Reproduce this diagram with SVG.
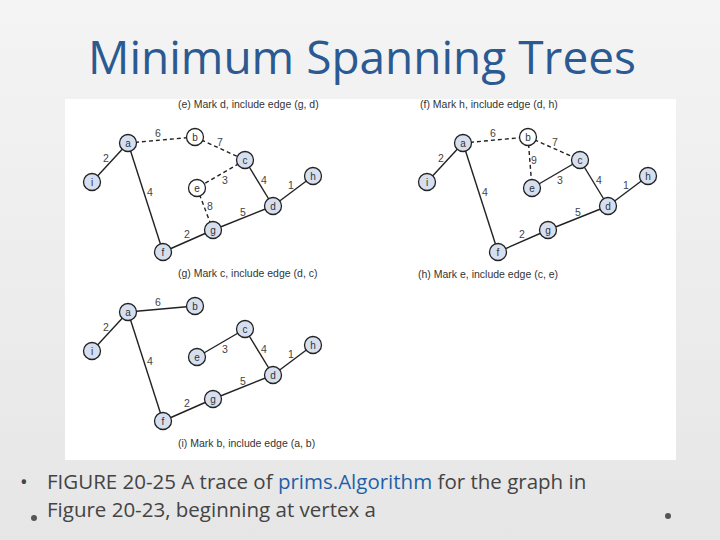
<svg xmlns="http://www.w3.org/2000/svg" width="720" height="540" viewBox="0 0 720 540">
<defs>
<linearGradient id="bg" x1="0" y1="0" x2="0" y2="1"><stop offset="0" stop-color="#f4f4f4"/><stop offset="1" stop-color="#e6e6e6"/></linearGradient>
</defs>
<style>
.n{fill:#d5dff0;stroke:#222;stroke-width:1.3}
.w{fill:#fff;stroke:#222;stroke-width:1.3}
.nt{font-family:"Liberation Sans",Arial,sans-serif;font-size:10px;fill:#333;text-anchor:middle}
.e{stroke:#222;stroke-width:1.4;fill:none}
.d{stroke:#222;stroke-width:1.4;stroke-dasharray:4 3;fill:none}
.l{font-family:"Liberation Sans",Arial,sans-serif;font-size:10.5px;fill:#444;text-anchor:middle}
.cap{font-family:"Liberation Sans",Arial,sans-serif;font-size:10.5px;fill:#333}
</style>
<rect width="720" height="540" fill="url(#bg)"/>
<text x="362" y="74" font-family="'Open Sans','Liberation Sans',sans-serif" font-size="46" fill="#2b5a92" text-anchor="middle">Minimum Spanning Trees</text>
<rect x="65" y="99" width="611" height="361" fill="#fff"/>
<text class="cap" x="178" y="108">(e) Mark d, include edge (g, d)</text>
<text class="cap" x="420" y="108">(f) Mark h, include edge (d, h)</text>
<text class="cap" x="178" y="277">(g) Mark c, include edge (d, c)</text>
<text class="cap" x="418" y="278">(h) Mark e, include edge (c, e)</text>
<text class="cap" x="178" y="447">(i) Mark b, include edge (a, b)</text>
<g id="connectors">
<g id="g1edges">
<line class="e" x1="92" y1="182" x2="128" y2="143"/>
<line class="d" x1="128" y1="143" x2="195" y2="137"/>
<line class="d" x1="195" y1="137" x2="245" y2="160"/>
<line class="d" x1="245" y1="160" x2="197" y2="188"/>
<line class="d" x1="197" y1="188" x2="213" y2="230"/>
<line class="e" x1="128" y1="143" x2="163" y2="252"/>
<line class="e" x1="163" y1="252" x2="213" y2="230"/>
<line class="e" x1="213" y1="230" x2="273" y2="206"/>
<line class="e" x1="245" y1="160" x2="273" y2="206"/>
<line class="e" x1="273" y1="206" x2="313" y2="176"/>
</g>
<g id="g2edges" transform="translate(335,0)">
<line class="e" x1="92" y1="182" x2="128" y2="143"/>
<line class="d" x1="128" y1="143" x2="193" y2="137"/>
<line class="d" x1="193" y1="137" x2="245" y2="160"/>
<line class="d" x1="193" y1="137" x2="197" y2="188"/>
<line class="e" x1="245" y1="160" x2="197" y2="188"/>
<line class="e" x1="128" y1="143" x2="163" y2="252"/>
<line class="e" x1="163" y1="252" x2="213" y2="230"/>
<line class="e" x1="213" y1="230" x2="273" y2="206"/>
<line class="e" x1="245" y1="160" x2="273" y2="206"/>
<line class="e" x1="273" y1="206" x2="313" y2="176"/>
</g>
<g id="g3edges" transform="translate(0,169)">
<line class="e" x1="92" y1="182" x2="128" y2="143"/>
<line class="e" x1="128" y1="143" x2="195" y2="137"/>
<line class="e" x1="245" y1="160" x2="197" y2="188"/>
<line class="e" x1="128" y1="143" x2="163" y2="252"/>
<line class="e" x1="163" y1="252" x2="213" y2="230"/>
<line class="e" x1="213" y1="230" x2="273" y2="206"/>
<line class="e" x1="245" y1="160" x2="273" y2="206"/>
<line class="e" x1="273" y1="206" x2="313" y2="176"/>
</g>
</g>
<g id="labels1">
<text class="l" x="106" y="162">2</text><text class="l" x="158" y="137">6</text><text class="l" x="220" y="146">7</text>
<text class="l" x="225" y="184">3</text><text class="l" x="264" y="184">4</text><text class="l" x="291" y="189">1</text>
<text class="l" x="150" y="196">4</text><text class="l" x="210" y="210">8</text><text class="l" x="243" y="216">5</text><text class="l" x="187" y="238">2</text>
</g>
<g id="labels2" transform="translate(335,0)">
<text class="l" x="106" y="162">2</text><text class="l" x="158" y="137">6</text><text class="l" x="220" y="146">7</text>
<text class="l" x="199" y="164">9</text>
<text class="l" x="225" y="184">3</text><text class="l" x="264" y="184">4</text><text class="l" x="291" y="189">1</text>
<text class="l" x="150" y="196">4</text><text class="l" x="243" y="216">5</text><text class="l" x="187" y="238">2</text>
</g>
<g id="labels3" transform="translate(0,169)">
<text class="l" x="106" y="162">2</text><text class="l" x="158" y="137">6</text>
<text class="l" x="225" y="184">3</text><text class="l" x="264" y="184">4</text><text class="l" x="291" y="189">1</text>
<text class="l" x="150" y="196">4</text><text class="l" x="243" y="216">5</text><text class="l" x="187" y="238">2</text>
</g>
<g id="g1nodes">
<g id="g1-a"><circle class="n" cx="128" cy="143" r="8.5"/><text class="nt" x="128" y="146.5">a</text></g>
<g id="g1-b"><circle class="w" cx="195" cy="137" r="8.5"/><text class="nt" x="195" y="140.5">b</text></g>
<g id="g1-c"><circle class="n" cx="245" cy="160" r="8.5"/><text class="nt" x="245" y="163.5">c</text></g>
<g id="g1-e"><circle class="w" cx="197" cy="188" r="8.5"/><text class="nt" x="197" y="191.5">e</text></g>
<g id="g1-h"><circle class="n" cx="313" cy="176" r="8.5"/><text class="nt" x="313" y="179.5">h</text></g>
<g id="g1-d"><circle class="n" cx="273" cy="206" r="8.5"/><text class="nt" x="273" y="209.5">d</text></g>
<g id="g1-g"><circle class="n" cx="213" cy="230" r="8.5"/><text class="nt" x="213" y="233.5">g</text></g>
<g id="g1-f"><circle class="n" cx="163" cy="252" r="8.5"/><text class="nt" x="163" y="255.5">f</text></g>
<g id="g1-i"><circle class="n" cx="92" cy="182" r="8.5"/><text class="nt" x="92" y="185.5">i</text></g>
</g>
<g id="g2nodes" transform="translate(335,0)">
<g id="g2-a"><circle class="n" cx="128" cy="143" r="8.5"/><text class="nt" x="128" y="146.5">a</text></g>
<g id="g2-b"><circle class="w" cx="193" cy="137" r="8.5"/><text class="nt" x="193" y="140.5">b</text></g>
<g id="g2-c"><circle class="n" cx="245" cy="160" r="8.5"/><text class="nt" x="245" y="163.5">c</text></g>
<g id="g2-e"><circle class="n" cx="197" cy="188" r="8.5"/><text class="nt" x="197" y="191.5">e</text></g>
<g id="g2-h"><circle class="n" cx="313" cy="176" r="8.5"/><text class="nt" x="313" y="179.5">h</text></g>
<g id="g2-d"><circle class="n" cx="273" cy="206" r="8.5"/><text class="nt" x="273" y="209.5">d</text></g>
<g id="g2-g"><circle class="n" cx="213" cy="230" r="8.5"/><text class="nt" x="213" y="233.5">g</text></g>
<g id="g2-f"><circle class="n" cx="163" cy="252" r="8.5"/><text class="nt" x="163" y="255.5">f</text></g>
<g id="g2-i"><circle class="n" cx="92" cy="182" r="8.5"/><text class="nt" x="92" y="185.5">i</text></g>
</g>
<g id="g3nodes" transform="translate(0,169)">
<g id="g3-a"><circle class="n" cx="128" cy="143" r="8.5"/><text class="nt" x="128" y="146.5">a</text></g>
<g id="g3-b"><circle class="n" cx="195" cy="137" r="8.5"/><text class="nt" x="195" y="140.5">b</text></g>
<g id="g3-c"><circle class="n" cx="245" cy="160" r="8.5"/><text class="nt" x="245" y="163.5">c</text></g>
<g id="g3-e"><circle class="n" cx="197" cy="188" r="8.5"/><text class="nt" x="197" y="191.5">e</text></g>
<g id="g3-h"><circle class="n" cx="313" cy="176" r="8.5"/><text class="nt" x="313" y="179.5">h</text></g>
<g id="g3-d"><circle class="n" cx="273" cy="206" r="8.5"/><text class="nt" x="273" y="209.5">d</text></g>
<g id="g3-g"><circle class="n" cx="213" cy="230" r="8.5"/><text class="nt" x="213" y="233.5">g</text></g>
<g id="g3-f"><circle class="n" cx="163" cy="252" r="8.5"/><text class="nt" x="163" y="255.5">f</text></g>
<g id="g3-i"><circle class="n" cx="92" cy="182" r="8.5"/><text class="nt" x="92" y="185.5">i</text></g>
</g>
<g font-family="'Open Sans','Liberation Sans',sans-serif" font-size="20.5" fill="#444">
<text x="20" y="489">•  <tspan x="47">FIGURE 20-25 A trace of </tspan><tspan fill="#1f5fa8">prims.Algorithm</tspan> for the graph in</text>
<text x="47" y="517">Figure 20-23, beginning at vertex a</text>
</g>
<circle cx="34" cy="518" r="3" fill="#555"/>
<circle cx="668" cy="516" r="3" fill="#555"/>
</svg>
